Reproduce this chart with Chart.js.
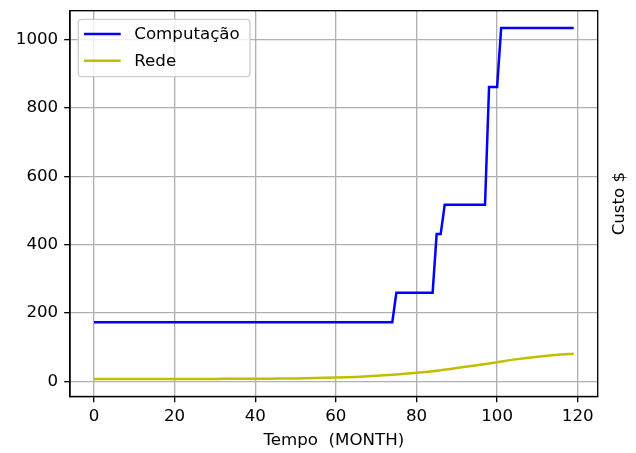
<!DOCTYPE html>
<html>
<head>
<meta charset="utf-8">
<script src="https://cdn.jsdelivr.net/npm/chart.js@4/dist/chart.umd.min.js"></script>
<style>
  html, body { margin: 0; padding: 0; background: #fff; }
  #wrap { width: 636px; height: 453px; }
</style>
</head>
<body>
<div id="wrap"><canvas id="chart" width="636" height="453"></canvas></div>
<script>
// Computação (blue): step breakpoints, month -> custo
const compMonths = [0, 74, 75, 84, 85, 86, 87, 97, 98, 100, 101, 119];
const compCost   = [173, 173, 259, 259, 431, 431, 517, 517, 862, 862, 1034, 1034];

// Rede (yellow): read every 5 months
const redeMonths = [0, 5, 10, 15, 20, 25, 30, 35, 40, 45, 50, 55, 60, 65, 70, 75, 80, 85, 90, 95, 100, 105, 110, 115, 119];
const redeCost   = [7, 7, 7, 7, 7, 7, 7.1, 7.3, 7.5, 8, 8.6, 9.5, 11, 13, 16, 20, 25, 31, 39, 47, 56, 65, 72, 77.5, 81];

const xTicks = [0, 20, 40, 60, 80, 100, 120];
const yTicks = [0, 200, 400, 600, 800, 1000];

const FONT = "DejaVu Sans";
const FS = 16.67;

Chart.defaults.font.family = FONT;
Chart.defaults.font.size = FS;
Chart.defaults.color = "#000";

const toPts = (xs, ys) => xs.map((x, i) => ({ x: x, y: ys[i] }));

// frame (top/right spines) + right side y label + legend
const framePlugin = {
  id: "frame",
  afterDatasetsDraw(chart) {
    const { ctx, chartArea: a } = chart;
    ctx.save();
    ctx.strokeStyle = "#000";
    ctx.lineWidth = 1.33;
    ctx.strokeRect(a.left, a.top, a.right - a.left, a.bottom - a.top);

    // ylabel on the right
    ctx.translate(620, (a.top + a.bottom) / 2);
    ctx.rotate(-Math.PI / 2);
    ctx.font = FS + "px '" + FONT + "'";
    ctx.fillStyle = "#000";
    ctx.textAlign = "center";
    ctx.textBaseline = "middle";
    ctx.fillText("Custo $", 0, 0);
    ctx.restore();

    // legend box
    const bx = 78.3, by = 19.3, bw = 171.7, bh = 57.4, r = 3.5;
    ctx.save();
    ctx.beginPath();
    ctx.moveTo(bx + r, by);
    ctx.arcTo(bx + bw, by, bx + bw, by + bh, r);
    ctx.arcTo(bx + bw, by + bh, bx, by + bh, r);
    ctx.arcTo(bx, by + bh, bx, by, r);
    ctx.arcTo(bx, by, bx + bw, by, r);
    ctx.closePath();
    ctx.fillStyle = "rgba(255,255,255,0.8)";
    ctx.fill();
    ctx.strokeStyle = "#cccccc";
    ctx.lineWidth = 1.33;
    ctx.stroke();
    ctx.font = FS + "px '" + FONT + "'";
    ctx.textBaseline = "middle";
    ctx.textAlign = "left";
    chart.data.datasets.forEach((ds, i) => {
      const ry = 34 + i * 26.7;
      ctx.strokeStyle = ds.borderColor;
      ctx.lineWidth = 2.5;
      ctx.beginPath();
      ctx.moveTo(84, ry);
      ctx.lineTo(120.7, ry);
      ctx.stroke();
      ctx.fillStyle = "#000";
      ctx.fillText(ds.label, 134.3, ry + 1);
    });
    ctx.restore();
  }
};

new Chart(document.getElementById("chart").getContext("2d"), {
  type: "line",
  data: {
    datasets: [
      {
        label: "Computação",
        data: toPts(compMonths, compCost),
        borderColor: "#0000ff",
        borderWidth: 2.5,
        pointRadius: 0,
        tension: 0,
        fill: false
      },
      {
        label: "Rede",
        data: toPts(redeMonths, redeCost),
        borderColor: "#bfbf00",
        borderWidth: 2.5,
        pointRadius: 0,
        cubicInterpolationMode: "monotone",
        fill: false
      }
    ]
  },
  options: {
    responsive: false,
    animation: false,
    layout: { padding: { top: 10.7, right: 38.3, left: 0, bottom: 0 } },
    plugins: {
      legend: { display: false },
      tooltip: { enabled: false }
    },
    scales: {
      x: {
        type: "linear",
        min: -5.95,
        max: 124.95,
        afterFit: (s) => { s.height = 56.5; s.paddingLeft = 0; s.paddingRight = 0; },
        afterBuildTicks: (s) => { s.ticks = xTicks.map(v => ({ value: v })); },
        ticks: {
          callback: (v) => String(v),
          padding: 4,
          maxRotation: 0
        },
        grid: {
          color: "#b0b0b0",
          lineWidth: 1.33,
          tickColor: "#000",
          tickLength: 5.8,
          tickWidth: 1.33
        },
        border: { display: true, color: "#000", width: 1.33 },
        title: {
          display: true,
          text: "Tempo  (MONTH)",
          padding: { top: 2, bottom: 2 }
        }
      },
      y: {
        type: "linear",
        min: -44.4,
        max: 1085,
        afterFit: (s) => { s.width = 70; s.paddingTop = 0; s.paddingBottom = 0; },
        afterBuildTicks: (s) => { s.ticks = yTicks.map(v => ({ value: v })); },
        ticks: {
          callback: (v) => String(v),
          padding: 6
        },
        grid: {
          color: "#b0b0b0",
          lineWidth: 1.33,
          tickColor: "#000",
          tickLength: 5.8,
          tickWidth: 1.33
        },
        border: { display: true, color: "#000", width: 1.33 }
      }
    }
  },
  plugins: [framePlugin]
});
</script>
</body>
</html>
